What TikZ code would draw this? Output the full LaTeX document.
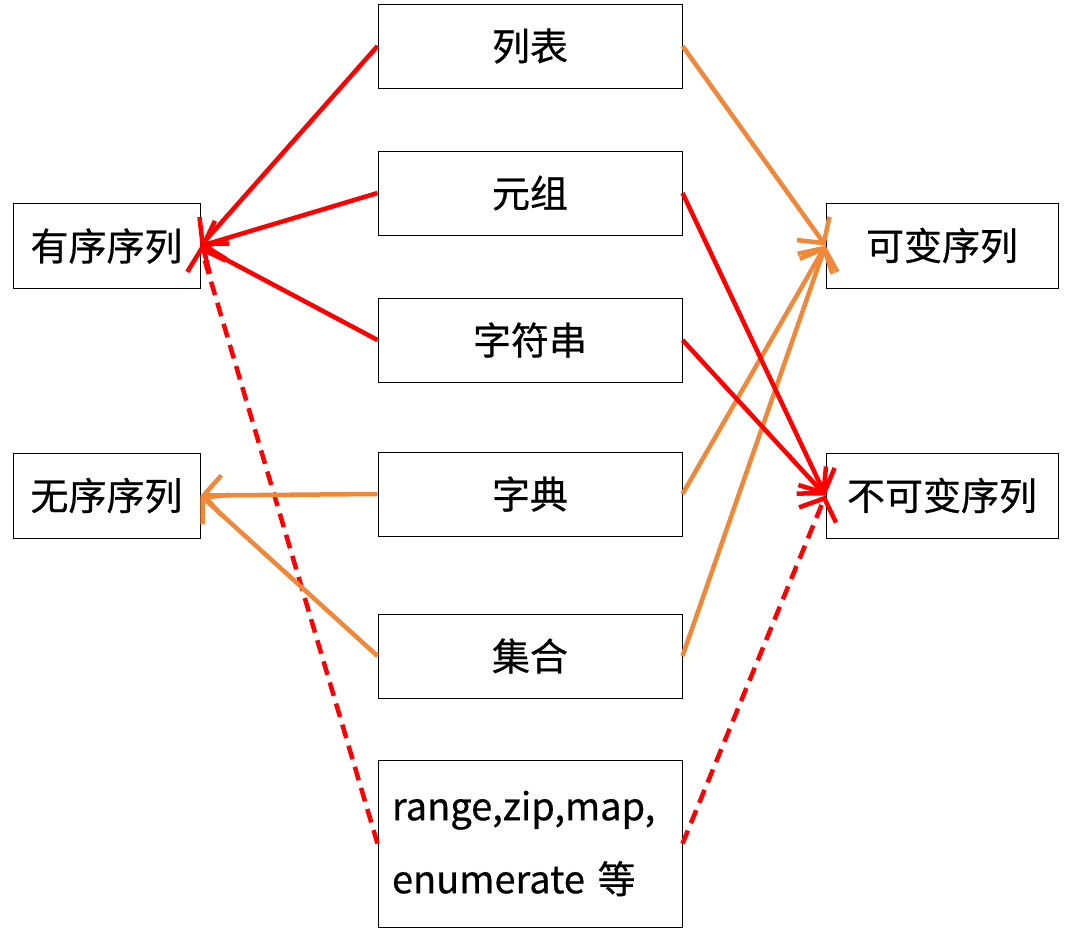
\documentclass[tikz,border=0pt]{standalone}
\usepackage{fontspec}
\setmainfont{Noto Sans CJK SC}[FakeBold=0.6]
\usetikzlibrary{arrows.meta}
\definecolor{myred}{RGB}{255,0,0}
\definecolor{myorange}{RGB}{240,136,58}
\begin{document}
\begin{tikzpicture}[x=1pt,y=-1pt,
  box/.style={draw=black,line width=1pt,inner sep=0pt,font=\fontsize{38}{73}\selectfont},
  mid/.style={box,minimum width=304pt,minimum height=84pt},
  side/.style={box,minimum height=85pt},
  conn/.style={line width=4.5pt,-{Straight Barb[length=18pt,width=40pt]}},
  red/.style={conn,draw=myred},
  org/.style={conn,draw=myorange},
  dsh/.style={dash pattern=on 14pt off 8pt}]
\useasboundingbox (0,0) rectangle (1067,938);
\node[mid] (lb) at (530,46) {列表};
\node[mid] (yz) at (530,193) {元组};
\node[mid] (zf) at (530,340) {字符串};
\node[mid] (zd) at (530,494) {字典};
\node[mid] (jh) at (530,656) {集合};
\node[box,minimum width=304pt,minimum height=167pt,text width=276pt,align=left] (rg) at (530,843.5) {range,zip,map,\\enumerate 等};
\node[side,minimum width=187pt] (yx) at (106.5,246) {有序序列};
\node[side,minimum width=187pt] (wx) at (106.5,495.5) {无序序列};
\node[side,minimum width=232pt] (kb) at (942,245.5) {可变序列};
\node[side,minimum width=232pt] (bk) at (942,495.5) {不可变序列};
\draw[red] (lb.west) -- (yx.east);
\draw[red] (yz.west) -- (yx.east);
\draw[red] (zf.west) -- (yx.east);
\draw[red,dsh] (rg.west) -- (yx.east);
\draw[org] (zd.west) -- (wx.east);
\draw[org] (jh.west) -- (wx.east);
\draw[org] (lb.east) -- (kb.west);
\draw[org] (zd.east) -- (kb.west);
\draw[org] (jh.east) -- (kb.west);
\draw[red] (yz.east) -- (bk.west);
\draw[red] (zf.east) -- (bk.west);
\draw[red,dsh] (rg.east) -- (bk.west);
\end{tikzpicture}
\end{document}
